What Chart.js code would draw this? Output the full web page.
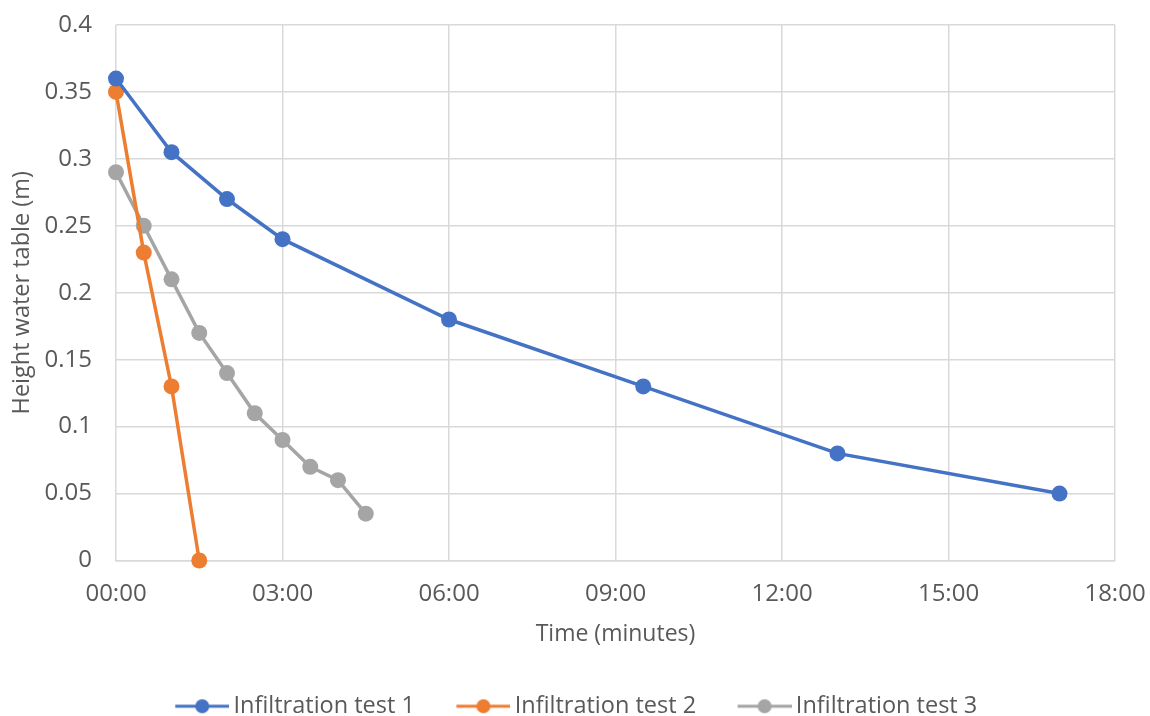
<!DOCTYPE html>
<html>
<head>
  <title>Infiltration tests</title>
  <script src="https://cdn.jsdelivr.net/npm/chart.js@4.4.0/dist/chart.umd.min.js"></script>
  <style>
    html, body { margin: 0; padding: 0; background: #fff; }
    #wrap { width: 1150px; height: 716px; }
  </style>
</head>
<body>
  <div id="wrap"><canvas id="myChart"></canvas></div>
  <script>
    // time in minutes, height of the water table in metres
    const test1Time = [0, 1, 2, 3, 6, 9.5, 13, 17];
    const test1Height = [0.36, 0.305, 0.27, 0.24, 0.18, 0.13, 0.08, 0.05];

    const test2Time = [0, 0.5, 1, 1.5];
    const test2Height = [0.35, 0.23, 0.13, 0];

    const test3Time = [0, 0.5, 1, 1.5, 2, 2.5, 3, 3.5, 4, 4.5];
    const test3Height = [0.29, 0.25, 0.21, 0.17, 0.14, 0.11, 0.09, 0.07, 0.06, 0.035];

    const seriesNames = ['Infiltration test 1', 'Infiltration test 2', 'Infiltration test 3'];
    const seriesColors = ['#4472C4', '#ED7D31', '#A5A5A5'];

    const textColor = '#595959';
    const gridColor = '#D9D9D9';
    const fontFamily = "'Open Sans', 'Noto Sans', sans-serif";

    function toPoints(xs, ys) {
      return xs.map((x, i) => ({ x: x, y: ys[i] }));
    }

    // legend marker: line with a dot, sitting at the right end of a wider
    // transparent strip so the strip also spaces the entries apart
    const markerBox = 88;
    function legendMarker(color) {
      const c = document.createElement('canvas');
      c.width = markerBox + 15;
      c.height = 16;
      const g = c.getContext('2d');
      const x0 = c.width - 54;
      g.strokeStyle = color;
      g.lineWidth = 3;
      g.beginPath();
      g.moveTo(x0, 8);
      g.lineTo(c.width, 8);
      g.stroke();
      g.fillStyle = color;
      g.beginPath();
      g.arc(x0 + 27, 8, 7, 0, Math.PI * 2);
      g.fill();
      return c;
    }

    function pad2(n) {
      return String(n).padStart(2, '0');
    }

    const ctx = document.getElementById('myChart').getContext('2d');

    const datasets = [
      toPoints(test1Time, test1Height),
      toPoints(test2Time, test2Height),
      toPoints(test3Time, test3Height)
    ].map((data, i) => ({
      label: seriesNames[i],
      data: data,
      borderColor: seriesColors[i],
      backgroundColor: seriesColors[i],
      borderWidth: 3.5,
      pointRadius: 8,
      pointHoverRadius: 8,
      pointBorderWidth: 0,
      showLine: true,
      tension: 0,
      clip: false
    }));

    new Chart(ctx, {
      type: 'scatter',
      data: { datasets: datasets },
      options: {
        responsive: true,
        maintainAspectRatio: false,
        animation: false,
        layout: { padding: { left: -4, right: 35, top: 25, bottom: -12 } },
        plugins: {
          tooltip: { enabled: false },
          legend: {
            position: 'bottom',
            labels: {
              color: textColor,
              font: { family: fontFamily, size: 23.5, lineHeight: 1 },
              usePointStyle: true,
              pointStyleWidth: markerBox,
              padding: 0,
              generateLabels: function(chart) {
                return chart.data.datasets.map((ds, i) => ({
                  text: ds.label,
                  fontColor: textColor,
                  pointStyle: legendMarker(ds.borderColor),
                  strokeStyle: ds.borderColor,
                  fillStyle: ds.borderColor,
                  lineWidth: 0,
                  hidden: false,
                  datasetIndex: i
                }));
              }
            }
          }
        },
        scales: {
          x: {
            type: 'linear',
            min: 0,
            max: 18,
            afterFit: function(scale) {
              scale.height = 134;
              scale.paddingLeft = 0;
              scale.paddingRight = 0;
            },
            ticks: {
              stepSize: 3,
              color: textColor,
              font: { family: fontFamily, size: 24 },
              padding: 19,
              callback: v => pad2(v) + ':00'
            },
            grid: { color: gridColor, lineWidth: 1.5, drawTicks: false },
            border: { color: gridColor, width: 1.5 },
            title: {
              display: true,
              text: 'Time (minutes)',
              color: textColor,
              font: { family: fontFamily, size: 23 },
              padding: { top: 0, bottom: 46 }
            }
          },
          y: {
            min: 0,
            max: 0.4,
            afterFit: function(scale) {
              scale.width = 120;
              scale.paddingTop = 0;
              scale.paddingBottom = 0;
            },
            ticks: {
              stepSize: 0.05,
              color: textColor,
              font: { family: fontFamily, size: 24 },
              padding: 24,
              callback: v => String(Math.round(v * 100) / 100)
            },
            grid: { color: gridColor, lineWidth: 1.5, drawTicks: false },
            border: { display: false },
            title: {
              display: true,
              text: 'Height water table (m)',
              color: textColor,
              font: { family: fontFamily, size: 23.5 },
              padding: { bottom: 0, top: 12 }
            }
          }
        }
      }
    });
  </script>
</body>
</html>
